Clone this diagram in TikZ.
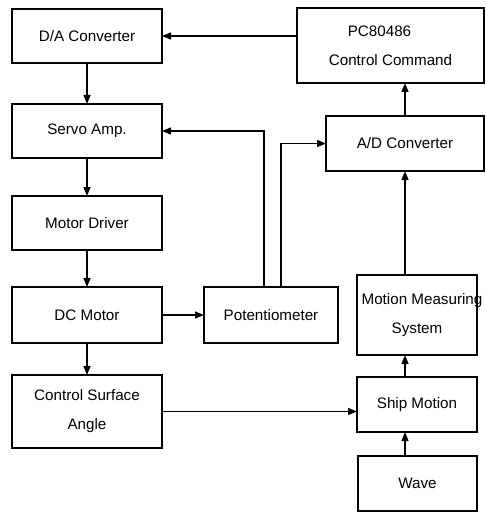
\documentclass[tikz,border=0pt]{standalone}
\usepackage{fontspec}
\setmainfont{Liberation Sans}
\usetikzlibrary{arrows.meta}
\begin{document}
\begin{tikzpicture}[x=1pt,y=-1pt,line width=1.3pt,
        blk/.style={draw,rectangle,inner sep=0pt,outer sep=0pt,align=center,
            font=\fontsize{15.2}{29}\selectfont},
        arr/.style={-{Triangle[length=9pt,width=7pt]}}]
            \useasboundingbox (0,0) rectangle (486,513);
            % left column
            \node [blk,minimum width=150,minimum height=54] (da) at (87,36) {D/A Converter};
            \node [blk,minimum width=150,minimum height=54] (servo) at (87,131) {Servo Amp.};
            \node [blk,minimum width=150,minimum height=54] (driver) at (87,223) {Motor Driver};
            \node [blk,minimum width=150,minimum height=56] (dcm) at (87,315) {DC Motor};
            \node [blk,minimum width=150,minimum height=73] (csa) at (87,411.5) {Control Surface\\Angle};
            \node [blk,minimum width=134,minimum height=56] (pot) at (271,315) {Potentiometer};
            % right column
            \node [blk,minimum width=187,minimum height=75] (pc) at (390.5,45.5) {PC80486\hspace*{22pt}\\Control Command};
            \node [blk,minimum width=158,minimum height=55] (ad) at (405,143.5) {A/D Converter};
            \node [blk,minimum width=120,minimum height=80] (mms) at (417,315) {\makebox[0pt]{\hspace*{10pt}Motion Measuring}\\System};
            \node [blk,minimum width=120,minimum height=55] (ship) at (417,404.5) {Ship Motion};
            \node [blk,minimum width=119,minimum height=55] (wave) at (417.5,483.5) {Wave};
            \draw [arr] (pc.west |- da.east) -- (da.east);
            \draw [arr] (da.south) -- (servo.north);
            \draw [arr] (servo.south) -- (driver.north);
            \draw [arr] (driver.south) -- (dcm.north);
            \draw [arr] (dcm.south) -- (csa.north);
            \draw [arr] (dcm.east) -- (pot.west);
            \draw [arr] ([xshift=-7pt]pot.north) |- (servo.east);
            \draw [arr] ([xshift=10pt]pot.north) |- (ad.west);
            \draw [arr] (csa.east) -- (csa.east -| ship.west);
            \draw [arr] (wave.north -| ad.south) -- (ship.south -| ad.south);
            \draw [arr] (ship.north -| ad.south) -- (mms.south -| ad.south);
            \draw [arr] (mms.north -| ad.south) -- (ad.south);
            \draw [arr] (ad.north) -- (ad.north |- pc.south);
\end{tikzpicture}
\end{document}
